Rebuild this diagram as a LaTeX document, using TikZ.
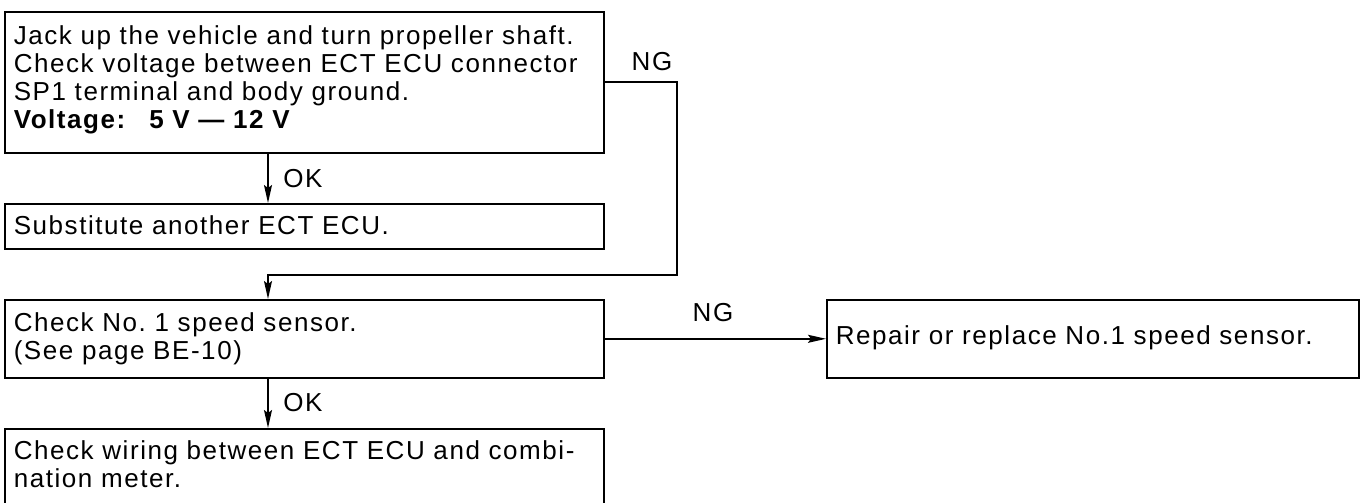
\documentclass[tikz,border=0pt]{standalone}
\usepackage{fontspec}
\setmainfont{Liberation Sans}[LetterSpace=6]
\usetikzlibrary{arrows.meta}
\begin{document}
\frenchspacing
\begin{tikzpicture}[x=1pt,y=-1pt,
  font=\fontsize{26}{28}\selectfont\frenchspacing,
  box/.style={draw, line width=1.6pt, anchor=north west, inner xsep=9pt, inner ysep=0pt, align=left},
  conn/.style={line width=1.6pt},
  arr/.style={conn, -{Stealth[length=18pt,width=8pt,inset=3pt]}},
  lbl/.style={inner sep=0pt}
]
\useasboundingbox (0,0) rectangle (1363,503);
\clip (0,0) rectangle (1363,503);
\coordinate (cx) at (268,0);
\coordinate (ngc) at (677,275);
\node[box, text width=581pt, text height=33pt, text depth=108pt] (b1) at (4,11)
  {Jack up the vehicle and turn propeller shaft.\\Check voltage between ECT ECU connector\\SP1 terminal and body ground.\\\textbf{Voltage:\hspace{24pt}5 V — 12 V}};
\node[box, text width=581pt, text height=31pt, text depth=14pt] (b2) at (4,203)
  {Substitute another ECT ECU.};
\node[box, text width=581pt, text height=32pt, text depth=46pt] (b3) at (4,299)
  {Check No. 1 speed sensor.\\(See page BE-10)};
\node[box, text width=514pt, text height=45pt, text depth=33pt] (b4) at (826,299)
  {Repair or replace No.1 speed sensor.};
\node[box, text width=581pt, text height=31pt, text depth=120pt] (b5) at (4,428)
  {Check wiring between ECT ECU and combi-\\nation meter.};
\draw[arr] (b1.south -| cx) -- (b2.north -| cx);
\draw[arr] (b1.east) -| (ngc) -| (b3.north -| cx);
\draw[arr] (b3.east) -- (b4.west);
\draw[arr] (b3.south -| cx) -- (b5.north -| cx);
\node[lbl] (ok1) at (303,179) {OK};
\node[lbl] (ng1) at (652,62) {NG};
\node[lbl] (ng2) at (713,313) {NG};
\node[lbl] (ok2) at (303,403) {OK};
\end{tikzpicture}
\end{document}
